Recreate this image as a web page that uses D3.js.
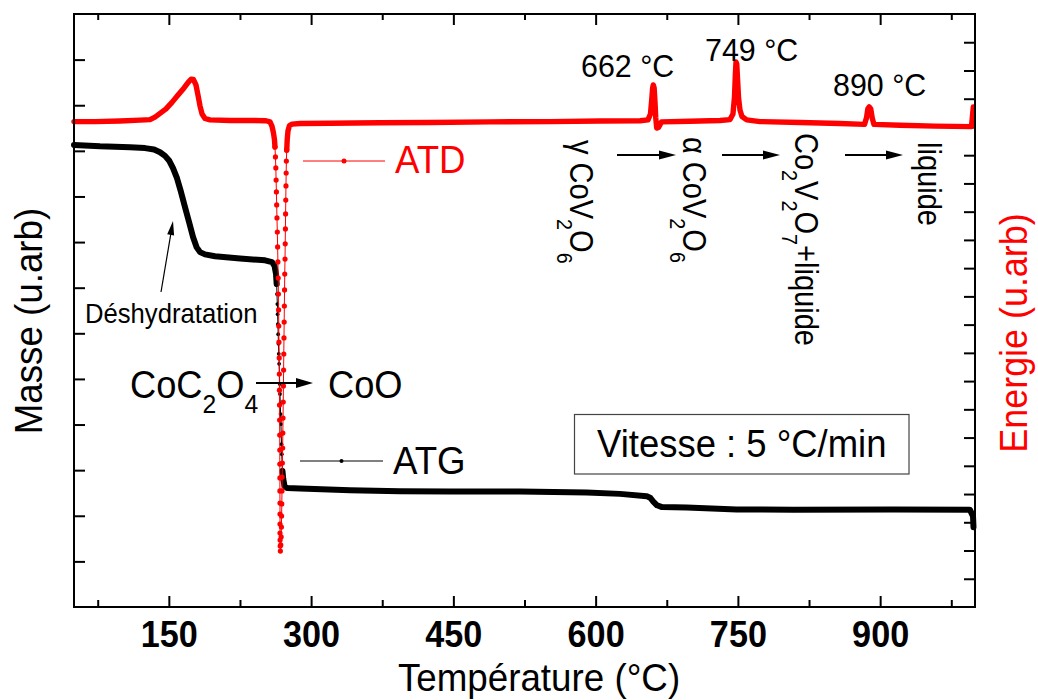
<!DOCTYPE html>
<html><head><meta charset="utf-8">
<script src="https://cdn.jsdelivr.net/npm/d3@7"></script>
<style>
html,body{margin:0;padding:0;background:#fff;}
svg{display:block;font-family:"Liberation Sans",Arial,Helvetica,sans-serif;}
</style>
</head><body>
<svg id="chart" width="1038" height="700"></svg>
<script>
// ---------------- data ----------------
const xTicksMajor = [150, 300, 450, 600, 750, 900];
const xTicksMinor = [75, 225, 375, 525, 675, 825, 975];

// ATD (DTA signal, arbitrary units, right axis)
const atdT = [50,72.1,98.5,119.6,130.1,135.4,140.7,147.0,153.3,159.7,166.0,170.2,173.4,176.0,178.6,180.7,182.9,185.0,188.1,193.4,214.5,235.6,252.4,256.7,258.8,260.3,261.4,
261.9,262.4,262.8,263.1,263.4,263.7,264.0,264.4,264.7,265.0,265.3,265.5,265.7,265.9,266.1,266.4,266.5,266.6,266.7,266.8,266.9,267.0,267.0,267.1,267.1,267.2,267.2,267.2,267.2,267.3,267.4,267.6,
268.0,268.4,268.7,268.9,269.1,269.3,269.5,269.7,270.0,270.2,270.4,270.6,270.8,271.0,271.2,271.4,271.6,271.8,272.0,272.2,272.5,272.7,272.9,273.1,273.3,273.5,273.7,273.9,274.3,
274.8,275.6,277.2,279.9,288.3,319.9,372.6,425.4,488.6,551.9,604.6,646.8,655.2,657.8,659.1,660.1,660.8,661.7,662.6,663.4,664.4,666.3,669.5,699.5,731.1,741.7,744.8,746.4,747.3,748.0,748.8,749.7,750.7,752.2,754.3,759.3,773.3,815.5,857.6,883.5,885.6,887.0,888.5,890.1,891.6,893.5,920.9,957.8,996.3,998.2];
const atdV = [17.19,17.19,17.21,17.24,17.26,17.35,17.48,17.64,17.87,18.13,18.38,18.57,18.69,18.68,18.49,18.13,17.74,17.46,17.30,17.25,17.23,17.23,17.22,17.18,17.02,16.79,16.54,
16.29,15.94,15.55,15.12,14.70,14.24,13.78,13.28,12.75,12.22,11.65,11.08,10.52,9.95,9.38,8.82,8.25,7.68,7.15,6.62,6.09,5.56,5.06,4.57,4.11,3.68,3.29,2.94,2.62,2.37,2.16,1.98,
2.20,2.48,2.83,3.22,3.65,4.11,4.60,5.10,5.63,6.16,6.69,7.26,7.83,8.39,8.96,9.53,10.09,10.66,11.23,11.79,12.32,12.86,13.39,13.92,14.41,14.91,15.37,15.79,16.18,
16.54,16.86,17.05,17.10,17.12,17.13,17.15,17.16,17.18,17.19,17.21,17.22,17.25,17.46,17.95,18.38,18.49,18.38,17.88,17.32,16.96,16.98,17.18,17.20,17.23,17.26,17.46,18.06,18.84,19.30,19.23,18.66,18.03,17.60,17.37,17.25,17.19,17.16,17.12,17.09,17.32,17.64,17.71,17.64,17.32,17.09,17.06,17.03,17.01,17.71];
const atdSparse = [261.8, 274.4];   // temperature span where samples are drawn as separate symbols

// ATG (mass, arbitrary units, left axis)
const atgT = [50,77.4,109.0,124.9,134.4,140.7,146.0,150.2,154.4,158.6,162.8,167.0,171.3,175.5,179.2,182.9,188.1,198.7,225.0,251.4,258.8,261.4,263.0,
263.7,264.0,264.4,264.7,265.0,265.3,265.6,265.9,266.3,266.6,266.9,267.2,267.5,267.8,268.2,268.5,268.8,269.1,269.4,269.8,
270.6,271.9,274.6,288.3,341.0,393.7,446.5,520.3,590.6,625.7,653.9,657.8,660.8,664.7,670.0,696.0,748.7,808.1,913.5,994.7,997.9,998.4];
const atgV = [10.13,10.10,10.08,10.06,10.03,9.97,9.89,9.79,9.62,9.40,9.10,8.77,8.44,8.11,7.89,7.78,7.73,7.69,7.64,7.60,7.56,7.48,7.30,
7.08,6.86,6.64,6.42,6.20,5.98,5.77,5.55,5.33,5.11,4.89,4.67,4.45,4.23,4.01,3.79,3.57,3.35,3.16,2.98,
2.81,2.66,2.61,2.60,2.56,2.54,2.53,2.53,2.51,2.48,2.43,2.39,2.31,2.23,2.19,2.18,2.14,2.13,2.14,2.13,1.99,1.75];
const atgSparse = [263.5, 270.0];

// ---------------- setup ----------------
const svg = d3.select('#chart');
const L = 74, R = 975, T = 14, B = 607;
const x = d3.scaleLinear().domain([50, 1000]).range([L, R]);
const yL = d3.scaleLinear().domain([0, 13]).range([B, T]);
const yR = d3.scaleLinear().domain([0, 21]).range([B, T]);

// ---------------- axes ----------------
function tickStyle(g) {
  g.select('.domain').remove();
  g.selectAll('.tick line').attr('stroke', '#000').attr('stroke-width', 2);
}
svg.append('g').attr('transform', `translate(0,${B})`)
  .call(d3.axisBottom(x).tickValues(xTicksMajor).tickSize(-11).tickSizeOuter(0).tickFormat(d3.format('d')))
  .call(tickStyle)
  .call(g => g.selectAll('.tick text')
    .attr('y', 40).attr('dy', null)
    .attr('fill', '#000')
    .attr('font-family', '"Liberation Sans",Arial,sans-serif')
    .attr('font-size', 36).attr('font-weight', 'bold')
    .attr('transform', 'scale(0.95,1)'));
svg.append('g').attr('transform', `translate(0,${B})`)
  .call(d3.axisBottom(x).tickValues(xTicksMinor).tickSize(-7).tickSizeOuter(0).tickFormat(''))
  .call(tickStyle);
svg.append('g').attr('transform', `translate(0,${T})`)
  .call(d3.axisTop(x).tickValues(xTicksMajor).tickSize(-11).tickSizeOuter(0).tickFormat(''))
  .call(tickStyle);
svg.append('g').attr('transform', `translate(0,${T})`)
  .call(d3.axisTop(x).tickValues(xTicksMinor).tickSize(-6).tickSizeOuter(0).tickFormat(''))
  .call(tickStyle);
svg.append('g').attr('transform', `translate(${L},0)`)
  .call(d3.axisLeft(yL).tickValues(d3.range(1, 13)).tickSize(-11).tickSizeOuter(0).tickFormat(''))
  .call(tickStyle);
svg.append('g').attr('transform', `translate(${R},0)`)
  .call(d3.axisRight(yR).tickValues(d3.range(1, 21)).tickSize(-11).tickSizeOuter(0).tickFormat(''))
  .call(tickStyle);

// ---------------- curves ----------------
function drawSeries(Ts, Vs, y, color, sparse, thickW, thinW, dotR) {
  const pts = Ts.map((t, i) => [x(t), y(Vs[i]), t]);
  const inS = p => p[2] >= sparse[0] && p[2] <= sparse[1];
  const i0 = pts.findIndex(inS);
  let i1 = i0; for (let i = 0; i < pts.length; i++) if (inS(pts[i])) i1 = i;
  const line = d3.line().x(d => d[0]).y(d => d[1]);
  const g = svg.append('g');
  [pts.slice(0, i0 + 1), pts.slice(i1)].forEach(seg => {
    g.append('path').attr('d', line(seg)).attr('fill', 'none').attr('stroke', color)
      .attr('stroke-width', thickW).attr('stroke-linejoin', 'round').attr('stroke-linecap', 'round');
  });
  const mid = pts.slice(Math.max(0, i0 - 1), i1 + 2);
  g.append('path').attr('d', line(mid)).attr('fill', 'none').attr('stroke', color).attr('stroke-width', thinW);
  g.selectAll('circle').data(pts.slice(i0, i1 + 1)).join('circle')
    .attr('cx', d => d[0]).attr('cy', d => d[1]).attr('r', dotR).attr('fill', color);
}
drawSeries(atgT, atgV, yL, '#000', atgSparse, 6, 1, 1.9);
drawSeries(atdT, atdV, yR, '#ff0000', atdSparse, 5.4, 1, 2.6);

svg.append('rect').attr('x', L).attr('y', T).attr('width', R - L).attr('height', B - T)
  .attr('fill', 'none').attr('stroke', '#000').attr('stroke-width', 2);

// ---------------- text helpers ----------------
function label(px, py, parts, o) {
  const g = svg.append('g').attr('transform', `translate(${px},${py}) rotate(${o.rot || 0}) scale(${o.sx || 1},1)`);
  const t = g.append('text').attr('font-size', o.size).attr('fill', o.fill || '#000')
    .attr('text-anchor', o.anchor || 'start').attr('font-weight', o.weight || 'normal');
  const subSize = o.size * 0.68, shift = o.size * 0.38;
  let prevSub = false;
  (Array.isArray(parts) ? parts : [parts]).forEach(p => {
    const isSub = Array.isArray(p);
    const ts = t.append('tspan').text(isSub ? p[0] : p);
    if (isSub) ts.attr('font-size', subSize);
    if (isSub && !prevSub) ts.attr('dy', shift);
    if (!isSub && prevSub) ts.attr('dy', -shift);
    prevSub = isSub;
  });
  return t;
}
function arrow(x1, y1, x2, y2, w, hl, hw) {
  const dx = x2 - x1, dy = y2 - y1, len = Math.hypot(dx, dy);
  const ux = dx / len, uy = dy / len;
  const bx = x2 - ux * hl, by = y2 - uy * hl;
  svg.append('line').attr('x1', x1).attr('y1', y1).attr('x2', bx + ux).attr('y2', by + uy)
    .attr('stroke', '#000').attr('stroke-width', w);
  svg.append('path')
    .attr('d', `M${x2},${y2}L${bx - uy * hw},${by + ux * hw}L${bx + uy * hw},${by - ux * hw}Z`)
    .attr('fill', '#000');
}

// ---------------- axis titles ----------------
label(539, 691, 'Température (°C)', {size: 38.5, sx: 0.955, anchor: 'middle'});
label(41.5, 321, 'Masse (u.arb)', {size: 39.5, sx: 0.93, rot: -90, anchor: 'middle'});
label(1027, 333, 'Energie (u.arb)', {size: 39, sx: 0.92, rot: -90, anchor: 'middle', fill: '#ff0000'});

// ---------------- legends ----------------
function legend(x1, x2, yy, color, dotR, text, tx, ty) {
  svg.append('line').attr('x1', x1).attr('x2', x2).attr('y1', yy).attr('y2', yy)
    .attr('stroke', color).attr('stroke-width', 1);
  svg.append('circle').attr('cx', (x1 + x2) / 2).attr('cy', yy).attr('r', dotR).attr('fill', color);
  label(tx, ty, text, {size: 39, sx: 0.94, fill: color});
}
legend(303, 385, 161, '#ff0000', 2.5, 'ATD', 395, 173);
legend(300, 383, 461, '#000', 2, 'ATG', 393, 473.5);

// ---------------- annotations ----------------
label(85, 323, 'Déshydratation', {size: 28.5, sx: 0.9});
arrow(161, 292, 173, 221, 1.2, 14, 3.5);

label(130, 398, ['CoC', ['2'], 'O', ['4']], {size: 39, sx: 0.93});
arrow(256, 383, 313, 383, 2, 17, 5);
label(328, 398, 'CoO', {size: 39, sx: 0.93});

label(581, 77, '662 °C', {size: 32, sx: 0.95});
label(705, 61, '749 °C', {size: 32, sx: 0.95});
label(833, 96, '890 °C', {size: 32, sx: 0.95});

label(570, 140, ['γ CoV', ['2'], 'O', ['6']], {size: 33, sx: 0.88, rot: 90});
label(683, 137, ['α CoV', ['2'], 'O', ['6']], {size: 33, sx: 0.88, rot: 90});
label(795, 133, ['Co', ['2'], 'V', ['2'], 'O', ['7'], '+liquide'], {size: 33, sx: 0.88, rot: 90});
label(918, 142, 'liquide', {size: 33, sx: 0.88, rot: 90});
arrow(617, 155, 676, 155, 2, 17, 4.5);
arrow(722, 155, 780, 155, 2, 17, 4.5);
arrow(845, 155, 903, 155, 2, 17, 4.5);

svg.append('rect').attr('x', 574.5).attr('y', 414.5).attr('width', 334.5).attr('height', 59.5)
  .attr('fill', 'none').attr('stroke', '#444').attr('stroke-width', 1.2);
label(597, 457, 'Vitesse : 5 °C/min', {size: 39, sx: 0.935});
</script>
</body></html>
